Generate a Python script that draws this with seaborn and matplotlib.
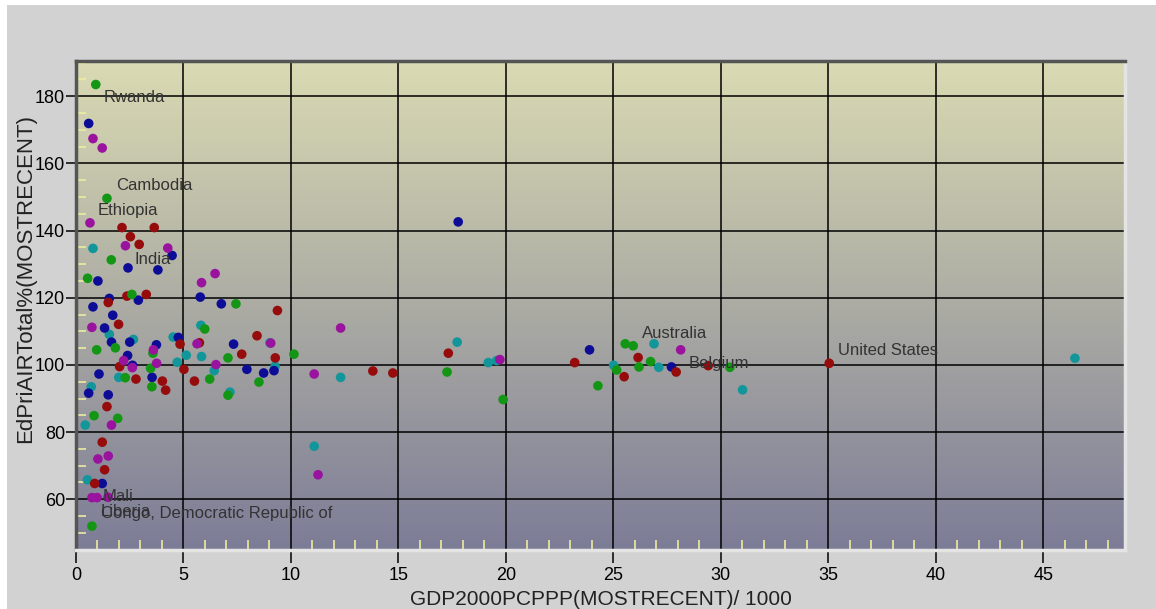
"""Scatter of primary enrolment ratio vs GDP per capita (PPP), coloured by group."""

import matplotlib

matplotlib.use("Agg")
import matplotlib.pyplot as plt  # noqa: E402
import numpy as np  # noqa: E402
import pandas as pd  # noqa: E402
import seaborn as sns  # noqa: E402
from matplotlib.colors import LinearSegmentedColormap  # noqa: E402
from matplotlib.patches import Rectangle  # noqa: E402
from matplotlib.ticker import MultipleLocator  # noqa: E402

# --- data (GDP/1000, enrolment %) ---
teal_x = [0.79, 1.55, 2.67, 4.52, 5.81, 5.13, 5.84, 4.71, 6.43, 1.99, 0.71, 0.43, 0.53,
          7.16, 9.02, 9.26, 12.31, 11.08, 17.73, 19.18, 19.57, 25.01, 26.89, 27.11,
          31.01, 46.47]
teal_y = [134.7, 109.1, 107.6, 108.3, 111.8, 102.9, 102.5, 100.8, 98.3, 96.3, 93.5, 82.1,
          65.8, 91.9, 106.6, 99.6, 96.3, 75.8, 106.8, 100.7, 101.3, 99.9, 106.3, 99.3,
          92.6, 102.0]

navy_x = [0.59, 2.42, 3.81, 4.47, 1.02, 1.55, 2.90, 5.78, 6.76, 0.79, 1.71, 1.33, 1.65,
          2.50, 3.74, 4.76, 7.33, 2.40, 2.63, 1.07, 3.54, 0.59, 1.50, 1.22, 7.95, 8.73,
          9.21, 17.78, 23.89, 27.70]
navy_y = [171.9, 128.9, 128.3, 132.6, 125.0, 119.8, 119.3, 120.2, 118.2, 117.3, 114.8,
          111.0, 106.8, 106.8, 106.0, 108.2, 106.2, 102.8, 99.9, 97.3, 96.3, 91.6, 91.1,
          64.7, 98.7, 97.6, 98.3, 142.6, 104.5, 99.4]

red_x = [2.14, 3.64, 2.53, 2.94, 1.50, 2.37, 3.27, 1.98, 2.03, 2.79, 4.02, 4.17, 4.84,
         5.02, 5.51, 5.74, 1.44, 1.22, 1.33, 0.87, 8.42, 7.71, 9.27, 9.37, 13.81, 14.74,
         17.32, 23.20, 25.50, 26.15, 27.92, 29.41, 35.04]
red_y = [140.9, 140.9, 138.2, 135.9, 118.6, 120.5, 121.0, 112.1, 99.5, 95.8, 95.2, 92.5,
         106.2, 98.7, 95.2, 106.6, 87.6, 77.0, 68.8, 64.7, 108.7, 103.2, 102.1, 116.2,
         98.2, 97.6, 103.5, 100.7, 96.5, 102.2, 97.9, 99.8, 100.5]

green_x = [0.92, 1.44, 1.64, 0.54, 2.60, 7.44, 5.99, 0.96, 1.83, 3.58, 3.47, 2.29, 3.53,
           0.84, 1.94, 6.22, 7.07, 10.14, 8.51, 7.07, 0.74, 17.26, 19.87, 24.28, 25.15,
           25.55, 25.92, 26.19, 26.73, 30.42]
green_y = [183.5, 149.6, 131.3, 125.8, 121.0, 118.2, 110.7, 104.5, 105.1, 103.5, 99.0,
           96.2, 93.5, 84.9, 84.1, 95.8, 102.1, 103.2, 94.9, 91.0, 52.0, 97.9, 89.7, 93.8,
           98.5, 106.3, 105.7, 99.4, 101.0, 99.3]

purple_x = [0.79, 1.22, 0.65, 2.30, 4.27, 5.84, 6.47, 0.74, 5.63, 3.60, 2.22, 3.75, 2.62,
            6.51, 9.06, 1.65, 1.02, 1.50, 0.74, 0.98, 1.49, 12.31, 11.08, 11.26, 19.72,
            28.13]
purple_y = [167.4, 164.6, 142.3, 135.5, 134.8, 124.5, 127.2, 111.2, 106.3, 104.5, 101.3,
            100.5, 99.2, 100.1, 106.5, 82.1, 72.0, 72.9, 60.5, 60.5, 60.6, 111.0, 97.3,
            67.3, 101.6, 104.5]

label_names = ["Rwanda", "Cambodia", "Ethiopia", "India", "Australia", "Belgium",
               "United States", "Mali", "Liberia", "Congo, Democratic Republic of"]
label_x = [1.30, 1.86, 1.02, 2.70, 26.33, 28.51, 35.44, 1.26, 1.16, 1.16]
label_y = [179.5, 153.3, 146.1, 131.3, 109.5, 100.3, 104.2, 60.7, 56.3, 55.7]

palette = {
    "teal": "#12969a",
    "navy": "#0c0c96",
    "red": "#960c0c",
    "green": "#139613",
    "purple": "#9a139e",
}

XLIM = (0, 48.8)
YLIM = (44.9, 190.5)

sns.set_theme(style="white")
plt.rcParams["font.family"] = ["Liberation Sans", "DejaVu Sans"]


def build_frame() -> pd.DataFrame:
    groups = [
        ("teal", teal_x, teal_y),
        ("navy", navy_x, navy_y),
        ("red", red_x, red_y),
        ("green", green_x, green_y),
        ("purple", purple_x, purple_y),
    ]
    parts = [pd.DataFrame({"gdp": xs, "edu": ys, "group": g}) for g, xs, ys in groups]
    return pd.concat(parts, ignore_index=True)


def main() -> None:
    df = build_frame()

    fig = plt.figure(figsize=(11.56, 6.09), dpi=100, facecolor="white")
    fig.patches.append(
        Rectangle((7 / 1156, 0), 1, 604 / 609, transform=fig.transFigure,
                  facecolor="#d2d2d2", edgecolor="none", zorder=-10)
    )
    ax = fig.add_axes([76 / 1156, 59 / 609, 1049 / 1156, 489 / 609])

    # vertical gradient behind the points
    grad_cmap = LinearSegmentedColormap.from_list(
        "bg", ["#7c7c97", "#acaca4", "#dadab3"])
    ax.imshow(np.linspace(0, 1, 256).reshape(-1, 1), cmap=grad_cmap, origin="lower",
              extent=[XLIM[0], XLIM[1], YLIM[0], YLIM[1]], aspect="auto", zorder=0)

    sns.scatterplot(data=df, x="gdp", y="edu", hue="group", palette=palette, s=48,
                    linewidth=0, legend=False, ax=ax, zorder=3)

    for name, lx, ly in zip(label_names, label_x, label_y):
        ax.text(lx, ly, name, fontsize=12, color="#333333", ha="left", va="center",
                zorder=4)

    ax.set_xlim(*XLIM)
    ax.set_ylim(*YLIM)
    ax.set_xticks(range(0, 46, 5))
    ax.set_yticks(range(60, 181, 20))
    ax.xaxis.set_minor_locator(MultipleLocator(1))
    ax.yaxis.set_minor_locator(MultipleLocator(5))

    ax.set_axisbelow(True)
    ax.grid(True, which="major", color="black", linewidth=1.1)
    ax.tick_params(which="major", direction="out", width=1.1, color="black",
                   labelsize=13, labelcolor="black", left=True, bottom=True)
    ax.tick_params(axis="x", which="major", length=9, pad=3)
    ax.tick_params(axis="y", which="major", length=7, pad=1)
    ax.tick_params(which="minor", direction="in", length=7, width=1.2,
                   color="#ececa0", left=True, bottom=True)

    for side in ("left", "top"):
        ax.spines[side].set_color("#555555")
        ax.spines[side].set_linewidth(2.5)
    for side in ("right", "bottom"):
        ax.spines[side].set_color("#e4e4e4")
        ax.spines[side].set_linewidth(2.5)

    ax.set_xlabel("GDP2000PCPPP(MOSTRECENT)/ 1000", fontsize=15, color="#222222")
    ax.set_ylabel("EdPriAIRTotal%(MOSTRECENT)", fontsize=16, color="#222222")
    ax.xaxis.set_label_coords(0.5, -0.082)
    ax.yaxis.set_label_coords(-0.038, 0.556)

    fig.savefig("out.png", dpi=100)
    plt.close(fig)


if __name__ == "__main__":
    main()
